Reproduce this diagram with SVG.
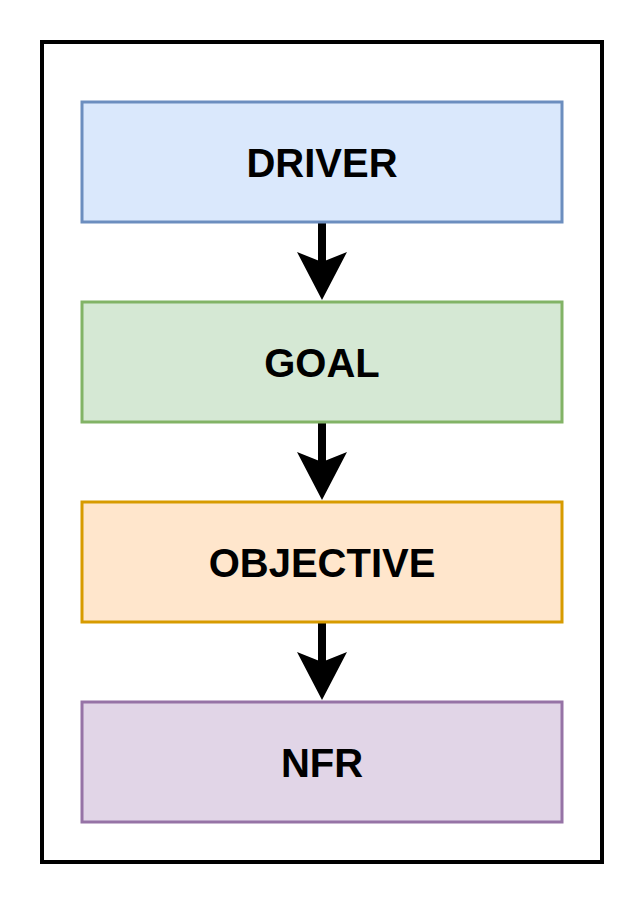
<svg xmlns="http://www.w3.org/2000/svg" width="644" height="904" viewBox="0 0 644 904">
<style>
.box{stroke-width:3}
.lbl{font-family:"Liberation Sans",Arial,sans-serif;font-weight:bold;font-size:40px;text-anchor:middle;fill:#000}
.edge{stroke:#000;stroke-width:8;fill:none}
.head{fill:#000;stroke:none}
</style>
<rect width="644" height="904" fill="#fff"/>
<rect id="frame" x="42" y="42" width="560" height="820" fill="none" stroke="#000" stroke-width="4"/>
<g id="connectors">
<line class="edge" x1="322" y1="222" x2="322" y2="264"/>
<polygon class="head" points="322,300 297,252 322,262 347,252"/>
<line class="edge" x1="322" y1="422" x2="322" y2="464"/>
<polygon class="head" points="322,500 297,452 322,462 347,452"/>
<line class="edge" x1="322" y1="622" x2="322" y2="664"/>
<polygon class="head" points="322,700 297,652 322,662 347,652"/>
</g>
<g id="driver">
<rect class="box" x="82" y="102" width="480" height="120" fill="#dae8fc" stroke="#6c8ebf"/>
<text class="lbl" x="322" y="176.5">DRIVER</text>
</g>
<g id="goal">
<rect class="box" x="82" y="302" width="480" height="120" fill="#d5e8d4" stroke="#82b366"/>
<text class="lbl" x="322" y="376.5">GOAL</text>
</g>
<g id="objective">
<rect class="box" x="82" y="502" width="480" height="120" fill="#ffe6cc" stroke="#d79b00"/>
<text class="lbl" x="322" y="576.5">OBJECTIVE</text>
</g>
<g id="nfr">
<rect class="box" x="82" y="702" width="480" height="120" fill="#e1d5e7" stroke="#9673a6"/>
<text class="lbl" x="322" y="776.5">NFR</text>
</g>
</svg>
